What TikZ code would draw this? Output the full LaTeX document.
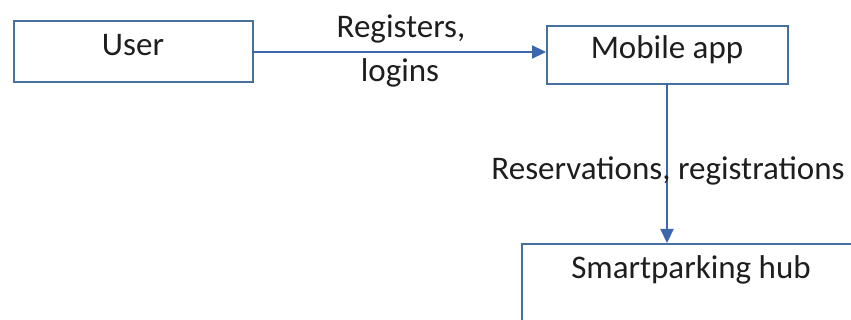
\documentclass[tikz,border=0pt]{standalone}
\usepackage{fontspec}
\setmainfont{Carlito}
\usetikzlibrary{arrows.meta}
\definecolor{edge}{HTML}{46709E}
\definecolor{arrowc}{HTML}{3D67AC}
\definecolor{txt}{HTML}{1E1E1E}
\tikzset{
  box/.style={draw=edge, line width=1.8pt, fill=white, inner sep=0pt},
  conn/.style={draw=arrowc, line width=2.2pt, -{Triangle[length=14pt,width=13pt]}},
  lbl/.style={text=txt, font=\fontsize{33}{38}\selectfont, inner sep=0pt}
}
\begin{document}
\begin{tikzpicture}[x=1pt,y=-1pt]
\useasboundingbox (0,0) rectangle (851,320);
\clip (0,0) rectangle (851,320);
\fill[white] (0,0) rectangle (851,320);
\node[box, anchor=north west, minimum width=239pt, minimum height=61pt] (user) at (13,20) {};
\node[lbl] (usert) at (133,45) {User};
\node[box, anchor=north west, minimum width=241pt, minimum height=58pt] (app) at (546,25) {};
\node[lbl] (appt) at (667,50) {Mobile app};
\node[box, anchor=north west, minimum width=380pt, minimum height=160pt] (hub) at (521,243) {};
\node[lbl] (hubt) at (691,270) {Smartparking hub};
\coordinate (a1) at (252,52);
\coordinate (a2) at (546,52);
\coordinate (b1) at (667,83);
\coordinate (b2) at (667,243);
\draw[conn] (a1) -- (a2);
\draw[conn] (b1) -- (b2);
\node[lbl] (l1) at (401,29) {Registers,};
\node[lbl] (l2) at (400,73) {logins};
\node[lbl] (l3) at (668,171) {Reservations, registrations};
\end{tikzpicture}
\end{document}
